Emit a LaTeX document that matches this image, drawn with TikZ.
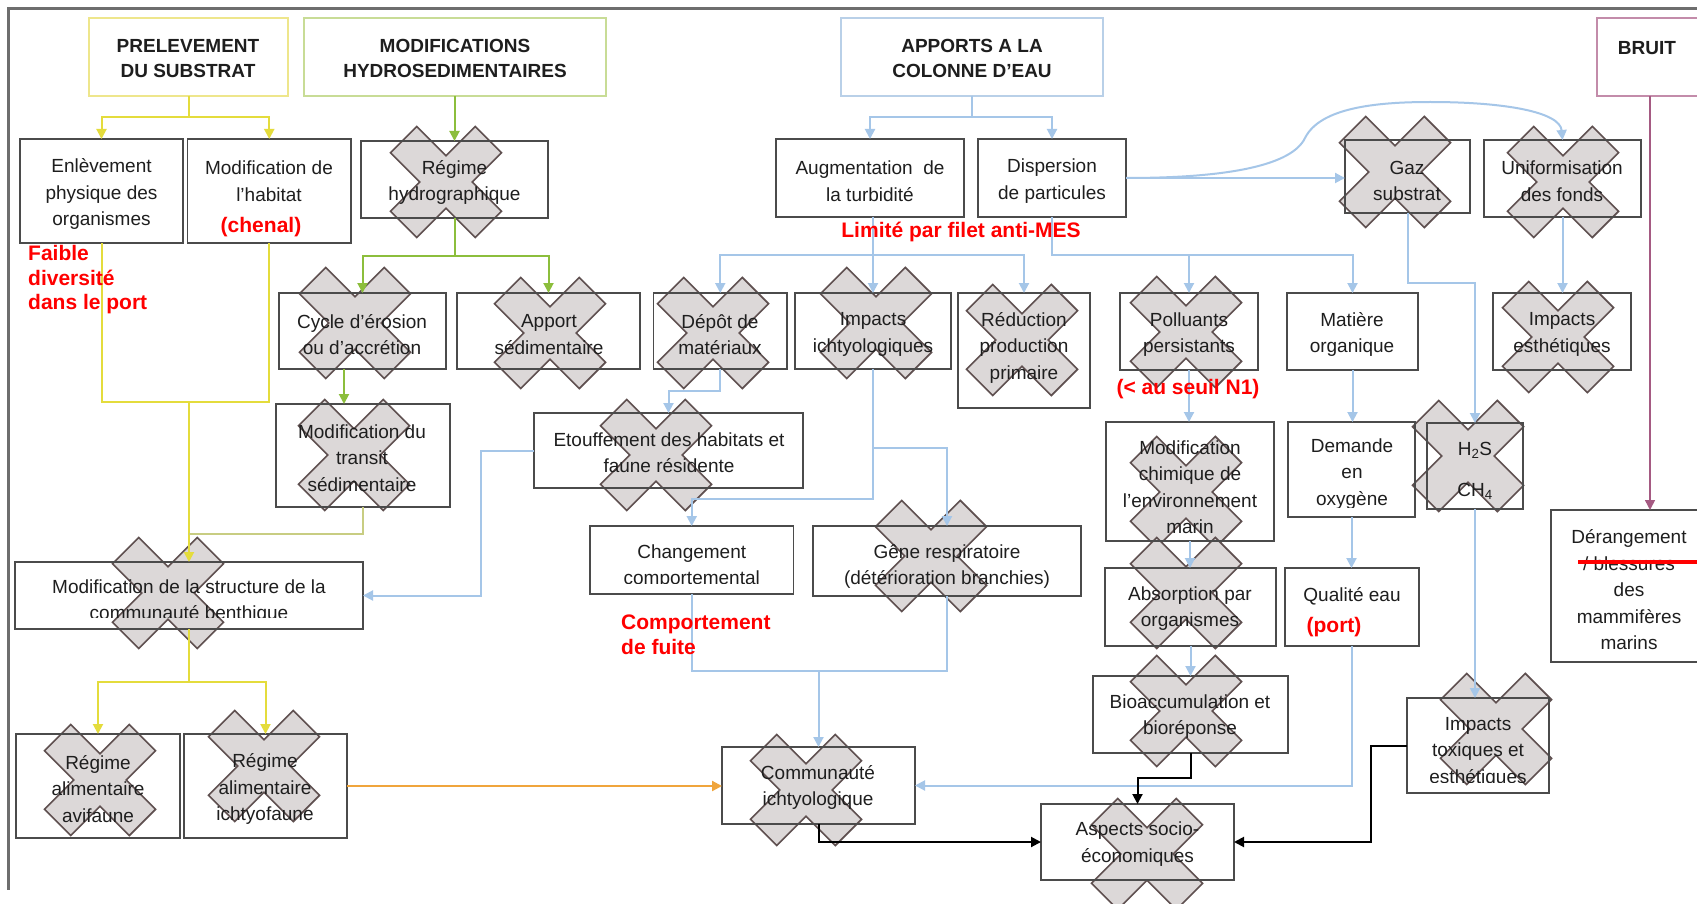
\documentclass[tikz,border=0pt]{standalone}
\usepackage{fontspec}
\setmainfont{Liberation Sans}
\usetikzlibrary{arrows.meta,backgrounds}
\definecolor{yel}{RGB}{228,220,60}
\definecolor{yelbox}{RGB}{238,230,140}
\definecolor{grn}{RGB}{140,190,60}
\definecolor{grnbox}{RGB}{200,220,150}
\definecolor{olv}{RGB}{200,205,130}
\definecolor{blu}{RGB}{165,198,232}
\definecolor{blubox}{RGB}{185,208,232}
\definecolor{prp}{RGB}{165,90,130}
\definecolor{prpbox}{RGB}{195,140,170}
\definecolor{org}{RGB}{240,165,60}
\definecolor{boxline}{RGB}{75,75,75}
\definecolor{xfill}{RGB}{220,216,216}
\definecolor{xline}{RGB}{95,80,80}
\definecolor{framecol}{RGB}{110,110,110}
\definecolor{txt}{RGB}{30,30,30}
% rectangle from its top-left and bottom-right corners
\newcommand\boxat[6][]{\node[bx,#1,minimum width={#5-#3},minimum height={#6-#4}] (#2) at (#3,#4) {};}
\tikzset{
  xcross/.pic={\filldraw[fill=xfill,draw=xline,line width=1.6pt,line join=miter]
    (29.35,55.51) -- (0,26.16) -- (-29.35,55.51) -- (-55.51,29.35) -- (-26.16,0)
    -- (-55.51,-29.35) -- (-29.35,-55.51) -- (0,-26.16) -- (29.35,-55.51)
    -- (55.51,-29.35) -- (26.16,0) -- (55.51,29.35) -- cycle;}
}
\begin{document}
\begin{tikzpicture}[x=1pt,y=-1pt,
  bx/.style={draw=boxline,line width=1.8pt,rectangle,inner sep=0pt,outer sep=0pt,anchor=north west},
  hd/.style={line width=1.5pt},
  tx/.style={align=center,text=txt,font=\fontsize{19}{26.5}\selectfont,inner sep=0pt},
  hdt/.style={tx,font=\bfseries\fontsize{19}{25}\selectfont},
  rt/.style={align=left,text=red,font=\bfseries\fontsize{21}{24.5}\selectfont,inner sep=0pt},
  tip/.style={-{Triangle[length=10pt,width=10pt]}},
  yl/.style={draw=yel,line width=2pt},
  ol/.style={draw=olv,line width=2pt},
  gn/.style={draw=grn,line width=2pt},
  bl/.style={draw=blu,line width=2pt},
  bk/.style={draw=black,line width=2pt},
  pp/.style={draw=prp,line width=1.6pt},
  og/.style={draw=org,line width=2.2pt}
]
\useasboundingbox (0,0) rectangle (1697,904);

% crossed-out effects sit under boxes, texts and connectors
\begin{scope}[on background layer]
  \fill[white] (0,0) rectangle (1697,904);
  \pic (c1) at (446,182) {xcross};
  \pic (c2) at (355,323) {xcross};
  \pic (c3) at (550,333) {xcross};
  \pic (c4) at (713,333) {xcross};
  \pic (c5) at (876,323) {xcross};
  \pic (c6) at (1022,340) {xcross};
  \pic (c7) at (1186,332) {xcross};
  \pic (c8) at (1395,172) {xcross};
  \pic (c9) at (1563,182) {xcross};
  \pic (c10) at (1558,337) {xcross};
  \pic (c11) at (354,455) {xcross};
  \pic (c12) at (656,455) {xcross};
  \pic (c13) at (168,593) {xcross};
  \pic (c14) at (931,556) {xcross};
  \pic (c15) at (1186,492) {xcross};
  \pic (c16) at (1186,593) {xcross};
  \pic (c17) at (1468,456) {xcross};
  \pic (c18) at (1186,711) {xcross};
  \pic (c19) at (1496,729) {xcross};
  \pic (c20) at (806,790) {xcross};
  \pic (c21) at (1147,854) {xcross};
  \pic (c22) at (100,780) {xcross};
  \pic (c23) at (264,766) {xcross};
\end{scope}

% frame
\draw[framecol,line width=2.5pt] (1697,8.5) -- (8.5,8.5) -- (8.5,890);

% header boxes
\boxat[hd,draw=yelbox]{prel}{89}{18}{288}{96}
\boxat[hd,draw=grnbox]{hydro}{304}{18}{606}{96}
\boxat[hd,draw=blubox]{apports}{841}{18}{1103}{96}
\boxat[hd,draw=prpbox]{bruit}{1597}{18}{1702}{96}
% effect boxes
\boxat{enl}{20}{139}{183}{243}
\boxat{habitat}{187.5}{139}{351}{243}
\boxat{regh}{361}{141}{548}{218}
\boxat{augm}{776}{139}{964}{217}
\boxat{disp}{978}{139}{1126}{217}
\boxat{gaz}{1345}{140}{1470}{213}
\boxat{unif}{1484}{140}{1641}{217}
\boxat{cycle}{279}{293}{446}{369}
\boxat{apport}{457}{293}{640}{369}
\boxat{depot}{653.5}{293}{787}{369}
\boxat{impi}{795}{293}{951}{369}
\boxat{redu}{958}{293}{1090}{408}
\boxat{poll}{1120}{293}{1258}{370}
\boxat{mat}{1287}{293}{1418}{370}
\boxat{imes}{1493}{293}{1631}{370}
\boxat{transit}{276}{404}{450}{507}
\boxat{etouf}{534}{413}{803}{488}
\boxat{chim}{1106}{422}{1274}{541}
\boxat{dem}{1288}{422}{1415}{517}
\boxat{h2s}{1427}{423}{1523}{509}
\boxat{der}{1551}{510}{1707}{662}
\boxat{struct}{15}{562}{363}{629}
\boxat{chg}{590}{526}{793.5}{594}
\boxat{gene}{813}{526}{1081}{596}
\boxat{absorp}{1105}{568}{1276}{646}
\boxat{qual}{1285}{568}{1419}{646}
\boxat{avif}{16}{734}{180}{838}
\boxat{ichf}{184}{734}{347}{838}
\boxat{comm}{722}{747}{915}{824}
\boxat{bioacc}{1093}{676}{1288}{753}
\boxat{tox}{1407}{698}{1549}{793}
\boxat{aspects}{1041}{804}{1234}{880}

% connectors: substrate (yellow)
\draw[yl,tip] (prel.south) -- ++(0,21) -| (enl.north);
\draw[yl,tip] (prel.south) -- ++(0,21) -| (habitat.north);
\coordinate (jy) at (189,402);
\coordinate (jo) at (189,534);
\draw[yl] (enl.south) |- (jy);
\draw[yl] (habitat.south) |- (jy);
\draw[yl,tip] (jy) -- (struct.north);
\draw[ol] (transit.south) |- (jo);
\draw[yl,tip] (struct.south) -- ++(0,53) -| (avif.north);
\draw[yl,tip] (struct.south) -- ++(0,53) -| (ichf.north);
\draw[og,tip] (ichf.east) -- (ichf.east -| comm.west);

% connectors: hydrosedimentary (green)
\draw[gn,tip] (regh.north |- hydro.south) -- (regh.north);
\draw[gn,tip] (regh.south) -- ++(0,38) -| (cycle.north);
\draw[gn,tip] (regh.south) -- ++(0,38) -| (apport.north);
\draw[gn,tip] (cycle.south -| 344,0) -- (transit.north -| 344,0);

% connectors: water column (blue)
\draw[bl,tip] (apports.south) -- ++(0,21) -| (augm.north);
\draw[bl,tip] (apports.south) -- ++(0,21) -| (disp.north);
\draw[bl,tip] (impi.north |- augm.south) -- (impi.north);
\draw[bl,tip] (impi.north |- augm.south) -- ++(0,38) -| (depot.north);
\draw[bl,tip] (impi.north |- augm.south) -- ++(0,38) -| (redu.north);
\draw[bl,tip] (disp.south) -- ++(0,38) -| (poll.north);
\draw[bl,tip] (disp.south) -- ++(0,38) -| (mat.north);
\draw[bl,tip] (disp.east) -- (disp.east -| gaz.west);
\draw[bl,tip] (disp.east) .. controls (1230,178) and (1292,165) .. (1305,138)
  .. controls (1320,108) and (1375,102) .. (1430,102)
  .. controls (1505,102) and (1560,112) .. (unif.north);
\draw[bl,tip] (gaz.south) -- ++(0,70) -| (h2s.north);
\draw[bl,tip] (unif.south) -- (unif.south |- imes.north);
\draw[bl,tip] (depot.south) -- ++(0,22) -| (etouf.north);
\draw[bl,tip] (etouf.west) -- ++(-53,0) |- (struct.east);
\draw[bl,tip] (impi.south) -- ++(0,130) -| (chg.north);
\draw[bl,tip] (impi.south) -- ++(0,79) -| (gene.north);
\coordinate (jc) at (818.5,671);
\draw[bl] (chg.south) |- (jc);
\draw[bl] (gene.south) |- (jc);
\draw[bl,tip] (jc) -- (comm.north);
\draw[bl,tip] (poll.south) -- (poll.south |- chim.north);
\draw[bl,tip] (mat.south) -- (mat.south |- dem.north);
\draw[bl,tip] (chim.south) -- (chim.south |- absorp.north);
\draw[bl,tip] (dem.south) -- (dem.south |- qual.north);
\draw[bl,tip] (absorp.south) -- (absorp.south |- bioacc.north);
\draw[bl,tip] (h2s.south) -- (h2s.south |- tox.north);
\draw[bl,tip] (qual.south) |- (comm.east);

% connectors: socio-economic (black)
\draw[bk,tip] (comm.south) |- (aspects.west);
\draw[bk,tip] (bioacc.south) -- ++(0,25) -| (aspects.north);
\draw[bk,tip] (tox.west) -- ++(-36,0) |- (aspects.east);

% connector: noise (purple)
\draw[pp,tip] (bruit.south -| 1650,0) -- (der.north -| 1650,0);

% texts
\node[hdt] (prel-t) at (188,58.5) {PRELEVEMENT\\DU SUBSTRAT};
\node[hdt] (hydro-t) at (455,58.5) {MODIFICATIONS\\HYDROSEDIMENTAIRES};
\node[hdt] (apports-t) at (972,58.5) {APPORTS A LA\\COLONNE D'EAU};
\node[hdt] (bruit-t) at (1647,48) {BRUIT};
\node[tx] (enl-t) at (101.5,194) {Enlèvement\\physique des\\organismes};
\node[tx] (habitat-t) at (269,181) {Modification de\\l'habitat};
\node[tx] (regh-t) at (454.5,182.5) {Régime\\hydrographique};
\node[tx] (augm-t) at (870,181) {Augmentation~ de\\la turbidité};
\node[tx] (disp-t) at (1052,181) {Dispersion\\de particules};
\node[tx] (gaz-t) at (1407,181) {Gaz\\substrat};
\node[tx] (unif-t) at (1562,181) {Uniformisation\\des fonds};
\node[tx] (cycle-t) at (362,334.5) {Cycle d'érosion\\ou d'accrétion};
\node[tx] (apport-t) at (549,334.5) {Apport\\sédimentaire};
\node[tx] (depot-t) at (720,334.5) {Dépôt de\\matériaux};
\node[tx] (impi-t) at (873,334.5) {Impacts\\ichtyologiques};
\node[tx] (redu-t) at (1024,347.5) {Réduction\\production\\primaire};
\node[tx] (poll-t) at (1189,334.5) {Polluants\\persistants};
\node[tx] (mat-t) at (1352,334.5) {Matière\\organique};
\node[tx] (imes-t) at (1562,334.5) {Impacts\\esthétiques};
\node[tx] (transit-t) at (362,458) {Modification du\\transit\\sédimentaire};
\node[tx] (etouf-t) at (669,452.5) {Etouffement des habitats et\\faune résidente};
\node[tx] (chim-t) at (1190,487) {Modification\\chimique de\\l'environnement\\marin};
\begin{scope}
  \clip (dem.north west) rectangle (dem.east |- 0,507);
  \node[tx] (dem-t) at (1352,474) {Demande\\en\\oxygène};
\end{scope}
\node[tx] (h2s-t) at (1475,470.5) {H\textsubscript{2}S\\[14.5pt]CH\textsubscript{4}};
\node[tx] (der-t) at (1629,590) {Dérangement\\/ blessures\\des\\mammifères\\marins};
\draw[red,line width=4pt] (1578,562) -- (der.east |- 0,562);
\begin{scope}
  \clip (struct.north west) rectangle (struct.east |- 0,617);
  \node[tx] (struct-t) at (189,601.5) {Modification de la structure de la\\communauté benthique};
\end{scope}
\begin{scope}
  \clip (chg.north west) rectangle (chg.east |- 0,583);
  \node[tx] (chg-t) at (691.75,566.5) {Changement\\comportemental};
\end{scope}
\begin{scope}
  \clip (gene.north west) rectangle (gene.east |- 0,588);
  \node[tx] (gene-t) at (947,566.5) {Gêne respiratoire\\(détérioration branchies)};
\end{scope}
\node[tx] (absorp-t) at (1190,608.5) {Absorption par\\organismes};
\node[tx] (qual-t) at (1352,596) {Qualité eau};
\node[tx] (avif-t) at (98,789) {Régime\\alimentaire\\avifaune};
\node[tx] (ichf-t) at (265,789) {Régime\\alimentaire\\ichtyofaune};
\node[tx] (comm-t) at (818,787.5) {Communauté\\ichtyologique};
\node[tx] (bioacc-t) at (1190,716.5) {Bioaccumulation et\\bioréponse};
\begin{scope}
  \clip (tox.north west) rectangle (tox.east |- 0,782);
  \node[tx] (tox-t) at (1478,752) {Impacts\\toxiques et\\esthétiques};
\end{scope}
\node[tx] (aspects-t) at (1137.5,844) {Aspects socio-\\économiques};

% red annotations
\node[rt,anchor=west] (faible) at (28,280) {Faible\\diversité\\dans le port};
\node[rt] (chenal) at (261,227) {(chenal)};
\node[rt] (filet) at (961,232) {Limité par filet anti-MES};
\node[rt] (seuil) at (1188,389) {(< au seuil N1)};
\node[rt] (port) at (1334,627) {(port)};
\node[rt,anchor=west] (fuite) at (621,635) {Comportement\\de fuite};
\end{tikzpicture}
\end{document}
